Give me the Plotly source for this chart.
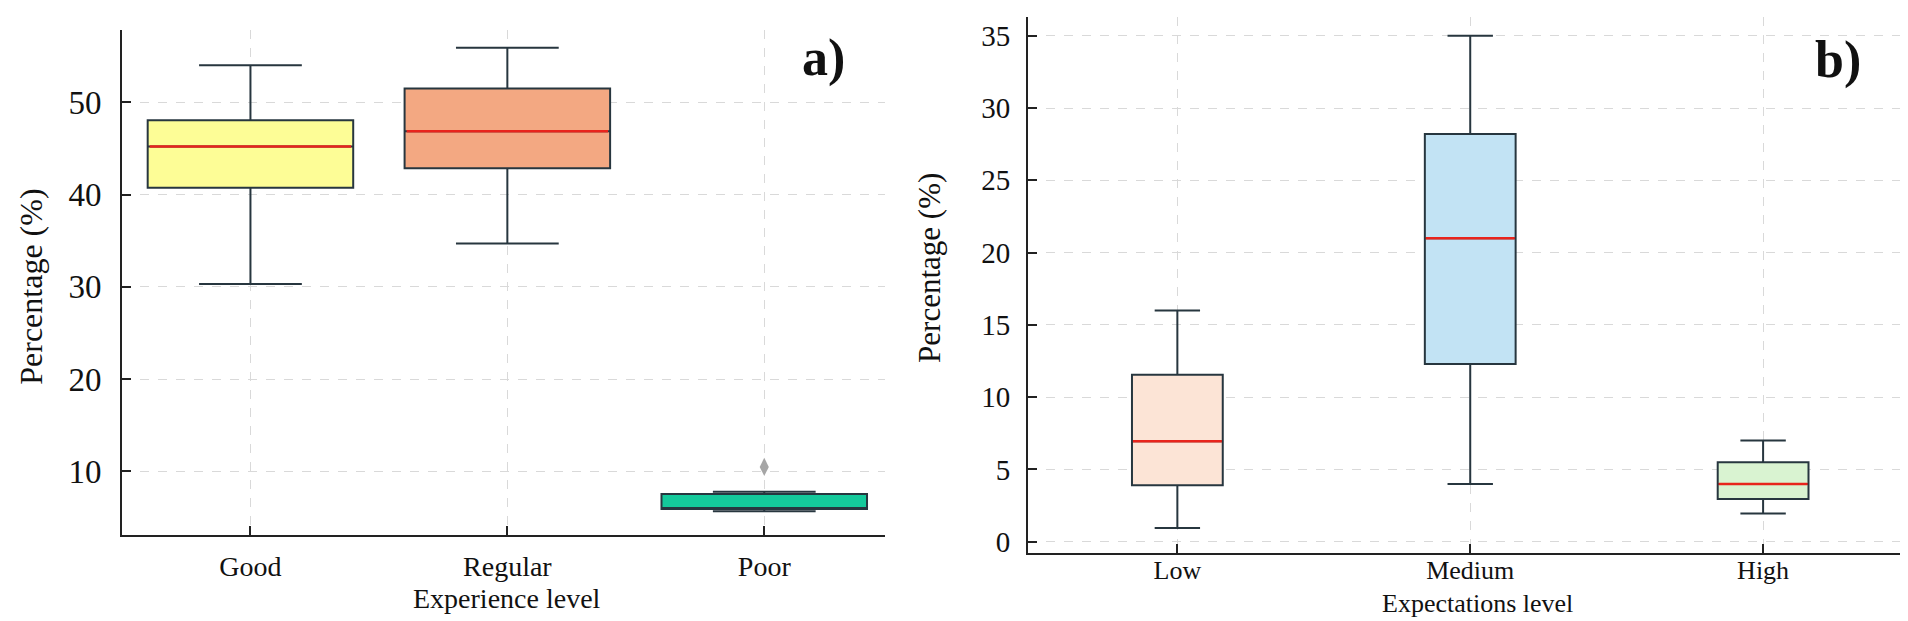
import plotly.graph_objects as go

W, H = 1908, 621

# panel a) - experience level
exp_levels = ["Good", "Regular", "Poor"]
exp_low = [30.3, 34.7, 5.7]
exp_q1 = [40.75, 42.85, 5.95]
exp_median = [45.2, 46.85, 5.95]
exp_q3 = [48.05, 51.5, 7.55]
exp_high = [54.0, 55.9, 7.8]
exp_outliers = [[], [], [10.5]]
exp_colors = ["#fdfd96", "#f3a882", "#14c99b"]

# panel b) - expectations level
expc_levels = ["Low", "Medium", "High"]
expc_low = [0.95, 4.0, 1.95]
expc_q1 = [3.9, 12.3, 2.95]
expc_median = [6.95, 21.0, 4.0]
expc_q3 = [11.55, 28.2, 5.5]
expc_high = [16.0, 35.0, 7.0]
expc_colors = ["#fce4d6", "#c2e3f4", "#d9f3d1"]

EDGE = "#27363f"
MEDIAN = "#e8241c"
FONT = "Liberation Serif"


def px(x, y):
    return x / W, 1 - y / H


fig = go.Figure()


def add_boxes(levels, low, q1, med, q3, high, colors, box_w, xa, ya):
    for i, name in enumerate(levels):
        fig.add_trace(go.Box(
            x=[i], lowerfence=[low[i]], q1=[q1[i]], median=[med[i]],
            q3=[q3[i]], upperfence=[high[i]], name=name,
            width=box_w, whiskerwidth=0.5, fillcolor=colors[i],
            line=dict(color=EDGE, width=2), boxpoints=False,
            xaxis=xa, yaxis=ya, showlegend=False))
        # red median line drawn over the box (only when inside the box)
        if q1[i] < med[i] < q3[i]:
            fig.add_trace(go.Scatter(
                x=[i - box_w * 0.49, i + box_w * 0.49], y=[med[i], med[i]],
                mode="lines", line=dict(color=MEDIAN, width=2.5),
                xaxis=xa, yaxis=ya, showlegend=False, hoverinfo="skip"))


add_boxes(exp_levels, exp_low, exp_q1, exp_median, exp_q3, exp_high,
          exp_colors, 0.8, "x", "y")
add_boxes(expc_levels, expc_low, expc_q1, expc_median, expc_q3, expc_high,
          expc_colors, 0.31, "x2", "y2")

# fliers
for i, pts in enumerate(exp_outliers):
    if pts:
        fig.add_trace(go.Scatter(
            x=[i] * len(pts), y=pts, mode="markers",
            marker=dict(symbol="diamond-tall", size=13, color="#a6a6a6"),
            xaxis="x", yaxis="y", showlegend=False))

grid = dict(showgrid=True, gridcolor="#d9d9d9", griddash="dash", gridwidth=1.2,
            zeroline=False, showline=True, linecolor="#222222", linewidth=2,
            ticks="inside", tickcolor="#222222", tickwidth=2, ticklen=9)

x0, _ = px(114, 0)
x1, _ = px(877, 0)
_, yb = px(0, 531)
_, yt = px(0, 22)
fig.update_layout(
    xaxis=dict(domain=[x0, x1], range=[-0.5, 2.47], tickvals=[0, 1, 2],
               ticktext=exp_levels, tickfont=dict(family=FONT, size=28, color="#111"),
               ticklabelstandoff=6, anchor="y", **grid),
    yaxis=dict(domain=[yb, yt], range=[3.15, 57.85], tickvals=[10, 20, 30, 40, 50],
               tickfont=dict(family=FONT, size=33, color="#111"),
               ticklabelstandoff=12, anchor="x", **grid),
)

x0, _ = px(1020, 0)
x1, _ = px(1903, 0)
_, yb = px(0, 549)
_, yt = px(0, 9)
fig.update_layout(
    xaxis2=dict(domain=[x0, x1], range=[-0.51, 2.505], tickvals=[0, 1, 2],
                ticktext=expc_levels, tickfont=dict(family=FONT, size=26, color="#111"),
                ticklabelstandoff=-7, anchor="y2", **grid),
    yaxis2=dict(domain=[yb, yt], range=[-0.75, 36.3], tickvals=[0, 5, 10, 15, 20, 25, 30, 35],
                tickfont=dict(family=FONT, size=29, color="#111"),
                ticklabelstandoff=10, anchor="x2", **grid),
)


def label(text, x, y, size, angle=0, bold=False):
    ax, ay = px(x, y)
    fig.add_annotation(
        text=f"<b>{text}</b>" if bold else text, x=ax, y=ay,
        xref="paper", yref="paper", showarrow=False, textangle=angle,
        xanchor="center", yanchor="middle",
        font=dict(family=FONT, size=size, color="#111"))


label("Percentage (%)", 23, 281, 32, angle=-90)
label("Experience level", 499, 595, 28)
label("a)", 815, 50, 52, bold=True)
label("Percentage (%)", 922, 262, 31, angle=-90)
label("Expectations level", 1469, 600, 26)
label("b)", 1830, 52, 52, bold=True)

fig.update_layout(width=W, height=H, margin=dict(l=0, r=0, t=0, b=0),
                  plot_bgcolor="white", paper_bgcolor="white")

fig.write_html("out.html")
